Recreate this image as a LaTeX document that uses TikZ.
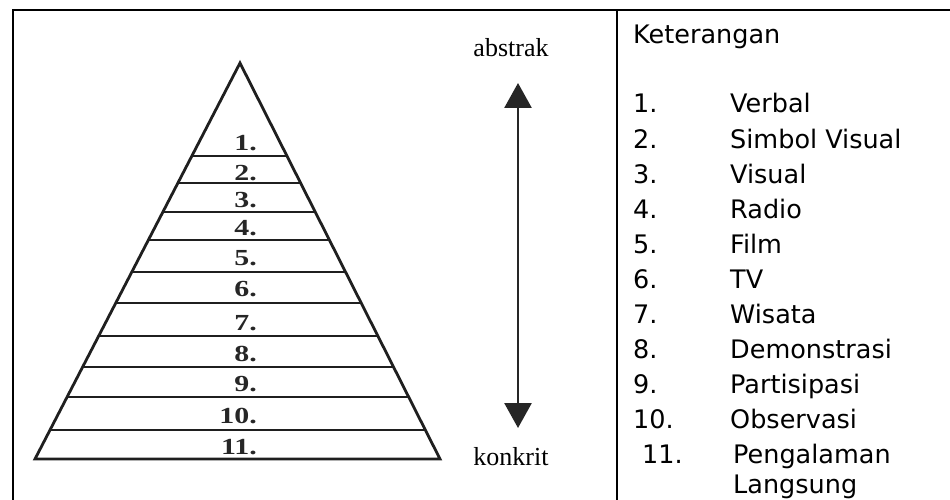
\documentclass[tikz,border=0pt]{standalone}
\usepackage{fontspec}
\setmainfont{Liberation Serif}
\newfontfamily\legfont{DejaVu Sans}
\usetikzlibrary{arrows.meta,calc}
\tikzset{
  frameline/.style={line width=1.6pt, draw=black},
  pyr/.style={line width=2.8pt, draw=black!88},
  num/.style={font=\fontsize{23}{23}\selectfont\bfseries, inner sep=0pt, anchor=base east, text=black!85},
  endlabel/.style={font=\fontsize{26}{26}\selectfont, inner sep=0pt, anchor=base},
  legtitle/.style={font=\legfont\fontsize{25.5}{25.5}\selectfont, inner sep=0pt, anchor=base west},
  legnum/.style={font=\legfont\fontsize{25.5}{25.5}\selectfont, inner sep=0pt, anchor=base west},
  legname/.style={font=\legfont\fontsize{25.5}{25.5}\selectfont, inner sep=0pt, anchor=base west},
  dblarrow/.style={line width=2.8pt, draw=black!85, {Triangle[width=27pt,length=25pt]}-{Triangle[width=27pt,length=25pt]}}
}
\begin{document}
\begin{tikzpicture}[x=1pt,y=-1pt]
\useasboundingbox (0,0) rectangle (950,500);
% frame
\draw[frameline] (13,501) -- (13,10) -- (951,10);
\draw[frameline] (617,10) -- (617,501);
% pyramid
\coordinate (apex) at (240,63);
\coordinate (bl) at (35,459);
\coordinate (br) at (440,459);
\draw[pyr, line join=miter] (apex) -- (bl) -- (br) -- cycle;
\foreach \yy in {156,183,212,240,272,303,336,367,397,430}{
  \draw[pyr] ($(apex)!{(\yy-63)/396}!(bl)$) -- ($(apex)!{(\yy-63)/396}!(br)$);
}
\foreach \b/\t in {150/1,180/2,207/3,235/4,265/5,296/6,330/7,361/8,391/9,423/10,454/11}{
  \node[num] (n\t) at (257,\b) {\scalebox{1.3}[1]{\t.}};
}
% arrow
\node[endlabel] (abs) at (511,57) {abstrak};
\node[endlabel] (kon) at (511,465) {konkrit};
\coordinate (atop) at (518,83);
\coordinate (abot) at (518,428);
\draw[dblarrow] (atop) -- (abot);
% legend
\node[legtitle] (ket) at (633,44) {Keterangan};
\foreach \i/\name in {1/Verbal,2/Simbol Visual,3/Visual,4/Radio,5/Film,6/TV,7/Wisata,8/Demonstrasi,9/Partisipasi,10/Observasi}{
  \node[legnum] (ln\i) at (633,{113+35*(\i-1)}) {\i.};
  \node[legname] (lt\i) at (730,{113+35*(\i-1)}) {\name};
}
\node[legnum] (ln11) at (642,463) {11.};
\node[legname] (lt11) at (733,463) {Pengalaman};
\node[legname] (lt11b) at (733,493) {Langsung};
\end{tikzpicture}
\end{document}
